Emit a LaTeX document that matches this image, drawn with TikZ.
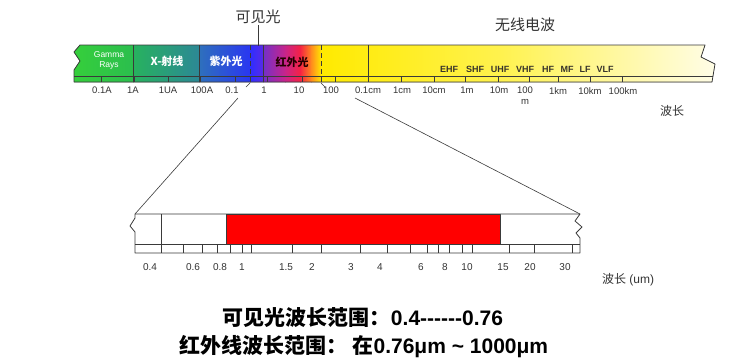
\documentclass[tikz,border=0pt]{standalone}
\usepackage{fontspec}
\setmainfont{Liberation Sans}
\newfontfamily\cjk{Noto Sans CJK SC}
\usetikzlibrary{positioning}

\definecolor{linegray}{HTML}{3A3A3A}
\definecolor{labelgray}{HTML}{333333}
\definecolor{gamA}{HTML}{36D03A}
\definecolor{gamB}{HTML}{2BBE4E}
\definecolor{xrA}{HTML}{27B25E}
\definecolor{xrB}{HTML}{2C8896}
\definecolor{uvA}{HTML}{2E70BC}
\definecolor{uvB}{HTML}{2A36F2}
\definecolor{visA}{HTML}{2E2EFF}
\definecolor{visB}{HTML}{5A2AE6}
\definecolor{irA}{HTML}{7430C8}
\definecolor{irB}{HTML}{C8248A}
\definecolor{irC}{HTML}{F52244}
\definecolor{irD}{HTML}{FF8A1E}
\definecolor{yelA}{HTML}{FFEA00}
\definecolor{yelB}{HTML}{FFF24E}
\definecolor{yelC}{HTML}{FFFDEA}
\definecolor{redband}{HTML}{FF0000}

\begin{document}
\begin{tikzpicture}[x=1pt, y=-1pt, line join=round,
  outline/.style={draw=linegray, line width=0.8pt},
  thinline/.style={draw=linegray, line width=0.6pt},
  ticklabel/.style={font=\fontsize{9.5}{11}\selectfont, text=labelgray, anchor=north, inner sep=1pt, align=center},
  umlabel/.style={font=\fontsize{10}{11}\selectfont, text=labelgray, inner sep=1pt},
  barlabel/.style={font=\fontsize{11}{12}\selectfont\bfseries\cjk, text=white, inner sep=1pt},
  bandlabel/.style={font=\fontsize{9}{10}\selectfont\bfseries, text=black!80!olive, inner sep=1pt},
  title/.style={font=\fontsize{15}{16}\selectfont\cjk, text=labelgray, inner sep=1pt},
  summary/.style={font=\fontsize{21}{24}\selectfont\bfseries, text=black, inner sep=1pt}]

\useasboundingbox (0,0) rectangle (750,360);

% spectrum bar
\begin{scope}
  \clip (80,45) -- (705,45) -- (701,57) -- (715,64) -- (712,82) -- (74,82) -- (74,70) -- (80,61) -- (74,52) -- cycle;
  \foreach \a/\b/\ca/\cb in {70/133.5/gamA/gamB, 133/199.5/xrA/xrB, 199/250.5/uvA/uvB,
      250/263.5/visA/visB, 263/285.5/irA/irB, 285/300.5/irB/irC, 300/311.5/irC/irD,
      311/321.5/irD/yelA, 321/500.5/yelA/yelB, 500/720/yelB/yelC}
    \fill[left color=\ca, right color=\cb] (\a,40) rectangle (\b,86);
\end{scope}
\draw[outline] (80,45) -- (705,45) -- (701,57) -- (715,64) -- (712,82) -- (74,82) -- (74,70) -- (80,61) -- (74,52) -- cycle;
\draw[outline] (74,76) -- (713,76);
\foreach \x in {101,134,168,200,235,267,302,335,368,401,434,465,498,529,558,590,622}
  \draw[thinline] (\x,76) -- (\x,82);
\foreach \x in {133,199,263,368}
  \draw[outline] (\x,45) -- (\x,82);
\foreach \x in {250,321}
  \draw[outline, dashed, dash pattern=on 5pt off 3pt] (\x,45) -- (\x,84);
\draw[thinline] (250,83) -- (246,87);
\draw[thinline] (321,83) -- (325,87);

% labels inside the bar
\node[barlabel, font=\fontsize{8.5}{10}\selectfont, align=center] (gamma) at (109,60) {Gamma\\Rays};
\node[barlabel] (xray) at (167,61) {X-射线};
\node[barlabel] (uv) at (226,61) {紫外光};
\node[barlabel, text=black!85!red] (ir) at (292,62) {红外光};
\foreach \x/\t in {449/EHF, 475/SHF, 500/UHF, 525/VHF, 548/HF, 567/MF, 585/LF, 605/VLF}
  \node[bandlabel] (band\t) at (\x,69) {\t};

% wavelength scale
\foreach \x/\t [count=\i] in {102/0.1A, 133/1A, 168/1UA, 202/100A, 232/0.1, 264/1, 299/10, 331/100,
    368/0.1cm, 402/1cm, 434/10cm, 467/1m, 499/10m, 525/100\\m, 558/1km, 590/10km, 623/100km}
  \node[ticklabel] (w\i) at (\x,86) {\t};
\node[title, font=\fontsize{12}{13}\selectfont\cjk] (wlen) at (672,111) {波长};

% titles
\node[title] (vis) at (258,17) {可见光};
\node[title] (radio) at (525,25) {无线电波};
\coordinate (visTop) at (258,46);
\draw[thinline] (vis) -- (visTop);

% zoomed bar
\coordinate (zoomL) at (238,98);
\coordinate (zoomR) at (355,98);
\coordinate (barTL) at (135,214);
\coordinate (barTR) at (580,214);
\draw[thinline] (zoomL) -- (barTL);
\draw[thinline] (zoomR) -- (barTR);

\draw[outline, fill=white] (135,214) -- (580,214) -- (575,221) -- (582,227) -- (576,233) -- (580,238)
  -- (580,253) -- (135,253) -- (135,232) -- (130,226) -- (135,218) -- cycle;
\draw[outline, fill=redband] (226,214) rectangle (500,244);
\draw[outline] (135,244) -- (580,244);
\draw[outline] (161,214) -- (161,253);
\foreach \x in {183,202,217,230,242,251,292,321,360,387,410,427,438,449,462,472,509,534,572}
  \draw[thinline] (\x,244) -- (\x,253);

\foreach \x/\t [count=\i] in {150/0.4, 193/0.6, 220/0.8, 242/1, 286/1.5, 312/2, 351/3, 380/4,
    421/6, 445/8, 467/10, 503/15, 530/20, 565/30}
  \node[umlabel] (u\i) at (\x,267) {\t};
\node[title, font=\fontsize{12}{13}\selectfont] (ulen) at (628,280) {{\cjk 波长} (um)};

% summary
\node[summary] (visrange) at (363,318) {{\cjk 可见光波长范围：}0.4-{}-{}-{}-{}-{}-0.76};
\node[summary] (irrange) at (364,347) {{\cjk 红外线波长范围：\ 在}0.76μm \textasciitilde{} 1000μm};
\end{tikzpicture}
\end{document}
